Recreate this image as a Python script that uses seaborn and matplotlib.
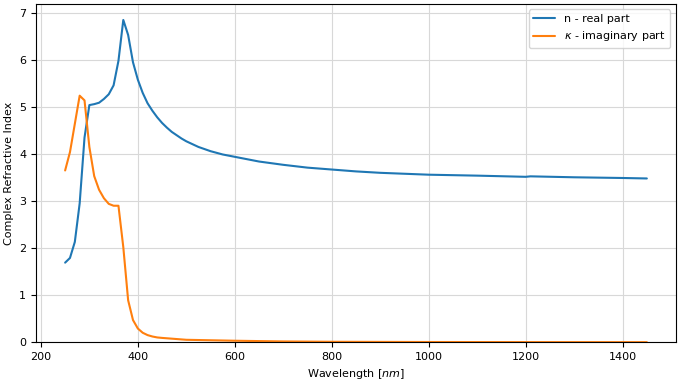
import numpy as np
import pandas as pd
import matplotlib
matplotlib.use("Agg")
import matplotlib.pyplot as plt
import seaborn as sns

# wavelength [nm] and refractive index (real part)
wl_n = [250, 260, 270, 280, 290, 300, 310, 320, 330, 340, 350, 360, 370, 380, 390,
        400, 410, 420, 430, 440, 450, 460, 470, 480, 490, 500, 525, 550, 575, 600,
        650, 700, 750, 800, 850, 900, 950, 1000, 1100, 1200, 1210, 1300, 1400, 1450]
n_real = [1.69, 1.79, 2.13, 2.95, 4.35, 5.04, 5.06, 5.09, 5.17, 5.27, 5.46, 5.98, 6.85, 6.53, 5.95,
          5.58, 5.30, 5.08, 4.92, 4.78, 4.66, 4.56, 4.47, 4.40, 4.33, 4.27, 4.15, 4.06, 3.99, 3.94,
          3.84, 3.77, 3.71, 3.67, 3.63, 3.60, 3.58, 3.56, 3.54, 3.515, 3.525, 3.505, 3.49, 3.48]

# wavelength [nm] and extinction coefficient (imaginary part)
wl_k = [250, 260, 270, 280, 290, 300, 310, 320, 330, 340, 350, 360, 370, 380, 390,
        400, 410, 420, 430, 440, 450, 475, 500, 550, 600, 700, 800, 1000, 1200, 1450]
k_imag = [3.65, 4.04, 4.64, 5.24, 5.14, 4.15, 3.53, 3.24, 3.06, 2.94, 2.90, 2.90, 2.02, 0.89, 0.47,
          0.29, 0.20, 0.15, 0.12, 0.10, 0.09, 0.07, 0.05, 0.04, 0.03, 0.015, 0.008, 0.003, 0.001, 0.0]

sns.set_style("ticks")
plt.rcParams['font.family'] = ['DejaVu Sans']
plt.rcParams['font.size'] = 8
plt.rcParams['text.color'] = 'black'
plt.rcParams['axes.labelcolor'] = 'black'
plt.rcParams['xtick.color'] = 'black'
plt.rcParams['ytick.color'] = 'black'

fig, ax = plt.subplots(figsize=(6.8, 3.84), dpi=100)
fig.subplots_adjust(left=0.053, right=0.994, top=0.99, bottom=0.109)

sns.lineplot(x=wl_n, y=n_real, ax=ax, color='#1f77b4', linewidth=1.5,
             label='n - real part', sort=False)
sns.lineplot(x=wl_k, y=k_imag, ax=ax, color='#ff7f0e', linewidth=1.5,
             label=r'$\kappa$ - imaginary part', sort=False)

ax.set_ylim(bottom=0)
ax.margins(x=0.05)
ax.grid(True, color='#d8d8d8', linewidth=0.8)
ax.set_axisbelow(True)
for s in ax.spines.values():
    s.set_visible(True)
    s.set_color('black')

ax.set_xlabel(r'Wavelength [$nm$]', fontsize=8)
ax.set_ylabel('Complex Refractive Index', fontsize=8)
ax.tick_params(labelsize=8)
ax.legend(loc='upper right', fontsize=8, frameon=True)

fig.savefig('out.png', dpi=100)
